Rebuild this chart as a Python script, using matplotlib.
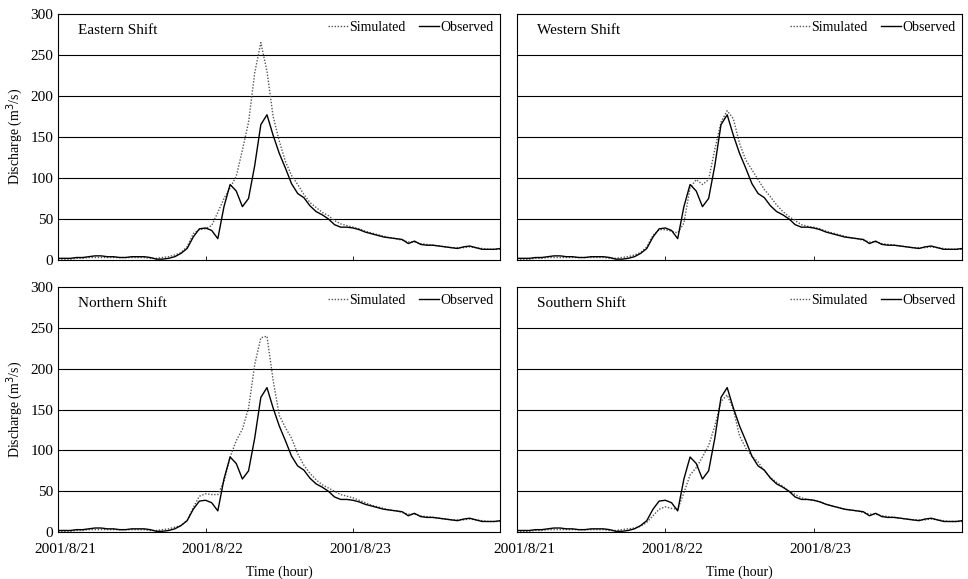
import matplotlib
matplotlib.use("Agg")
from matplotlib import pyplot as plt
from matplotlib.transforms import ScaledTranslation
import numpy as np

plt.rcParams['font.family'] = ['Liberation Serif', 'DejaVu Serif']

# hourly values, 2001/8/21 00:00 -> 2001/8/24 00:00
hours = np.arange(73)

observed = [2, 2, 2, 3, 3, 4, 5, 5, 4, 4, 3, 3, 4, 4, 4, 3, 1, 1, 2, 4,
            8, 14, 28, 38, 39, 36, 26, 65, 92, 84, 65, 75, 115, 165, 177, 152, 130, 112, 93, 81,
            76, 66, 59, 55, 50, 43, 40, 40, 39, 37, 34, 32, 30, 28, 27, 26, 25, 20, 23, 19,
            18, 18, 17, 16, 15, 14, 16, 17, 15, 13, 13, 13, 14]

sim_eastern = [1, 1, 1, 2, 2, 3, 3, 3, 3, 3, 3, 3, 3, 3, 3, 2, 2, 3, 4, 6,
               9, 16, 32, 37, 38, 42, 58, 75, 88, 102, 134, 168, 228, 265, 230, 175, 145, 120, 103, 92,
               80, 70, 64, 58, 54, 48, 44, 42, 40, 38, 35, 33, 31, 29, 27, 26, 24, 22, 22, 20,
               19, 18, 17, 16, 15, 15, 15, 16, 15, 14, 13, 13, 13]

sim_western = [1, 1, 1, 2, 2, 3, 3, 3, 3, 3, 3, 3, 3, 3, 3, 2, 2, 3, 4, 6,
               9, 16, 30, 37, 37, 35, 33, 45, 88, 98, 92, 98, 135, 168, 182, 172, 142, 122, 110, 98,
               86, 77, 67, 59, 53, 48, 43, 41, 40, 38, 35, 33, 31, 29, 27, 26, 24, 22, 22, 20,
               19, 18, 17, 16, 15, 15, 15, 16, 15, 14, 13, 13, 13]

sim_northern = [1, 1, 1, 2, 2, 3, 3, 3, 3, 3, 3, 3, 3, 3, 3, 2, 2, 3, 4, 6,
                8, 14, 30, 44, 47, 46, 46, 62, 92, 112, 126, 152, 205, 238, 240, 186, 143, 128, 115, 96,
                82, 72, 64, 58, 54, 50, 46, 44, 42, 39, 36, 33, 31, 29, 27, 26, 24, 22, 22, 20,
                19, 18, 17, 16, 15, 15, 15, 16, 15, 14, 13, 13, 13]

sim_southern = [1, 1, 1, 2, 2, 3, 3, 3, 3, 3, 3, 3, 3, 3, 3, 2, 2, 3, 4, 5,
                7, 12, 20, 28, 31, 29, 28, 48, 70, 79, 92, 106, 130, 160, 168, 150, 118, 103, 93, 86,
                75, 67, 61, 56, 50, 46, 42, 40, 39, 37, 34, 32, 30, 28, 27, 26, 24, 22, 22, 20,
                19, 18, 17, 16, 15, 15, 15, 16, 15, 14, 13, 13, 13]

titles = ["Eastern Shift", "Western Shift", "Northern Shift", "Southern Shift"]
sims = [sim_eastern, sim_western, sim_northern, sim_southern]
day_ticks = [0, 24, 48]
day_labels = ["2001/8/21", "2001/8/22", "2001/8/23"]
y_ticks = [0, 50, 100, 150, 200, 250, 300]

fig = plt.figure(figsize=(9.68, 5.79), dpi=100)

# left, bottom, width, height (figure fractions)
boxes = [
    [0.060, 0.551, 0.457, 0.425],
    [0.534, 0.551, 0.460, 0.425],
    [0.060, 0.081, 0.457, 0.423],
    [0.534, 0.081, 0.460, 0.423],
]

shift = ScaledTranslation(0.07, 0, fig.dpi_scale_trans)

for i, box in enumerate(boxes):
    ax = fig.add_axes(box)
    for g in [50, 100, 150, 200, 250]:
        ax.axhline(g, color='black', lw=0.8, zorder=0)
    ax.plot(hours, sims[i], color='#555555', ls=(0, (1, 1.2)), lw=1.0, label="Simulated")
    ax.plot(hours, observed, color='black', ls='-', lw=1.0, label="Observed")

    ax.set_xlim(0, 72)
    ax.set_ylim(0, 300)
    ax.set_yticks(y_ticks)
    ax.set_xticks(day_ticks)
    ax.tick_params(direction='in', length=3, width=0.6, labelsize=11)
    ax.tick_params(axis='x', pad=8)
    for s in ax.spines.values():
        s.set_linewidth(0.8)

    if i % 2 == 0:
        ax.set_ylabel("Discharge (m$^3$/s)", fontsize=10, labelpad=4)
    else:
        ax.set_yticklabels([])

    if i >= 2:
        ax.set_xticklabels(day_labels, fontsize=11)
        for lab in ax.get_xticklabels():
            lab.set_transform(lab.get_transform() + shift)
        ax.set_xlabel("Time (hour)", fontsize=10, labelpad=3)
        ax.xaxis.set_label_coords(0.5, -0.135)
    else:
        ax.set_xticklabels([])

    ax.text(0.045, 0.96, titles[i], transform=ax.transAxes, fontsize=11, va='top')
    ax.legend(loc='upper right', ncol=2, frameon=False, fontsize=10,
              handlelength=1.4, handletextpad=0.1, columnspacing=1.0,
              borderaxespad=0.1)

plt.savefig("out.png", dpi=100)
